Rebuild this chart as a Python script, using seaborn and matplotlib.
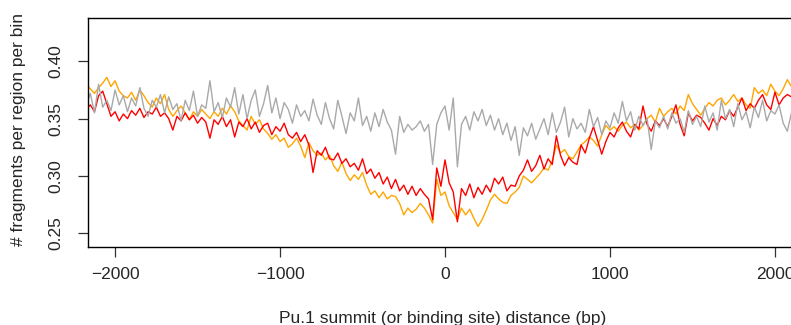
import numpy as np
import pandas as pd
import matplotlib
matplotlib.use("Agg")
import matplotlib.pyplot as plt
import seaborn as sns

# bin centres (bp), 25 bp bins
bin_start = -2175
bin_step = 25

gray_vals = [
    0.362, 0.372, 0.355, 0.380, 0.360, 0.366, 0.357, 0.375, 0.362, 0.370,
    0.356, 0.368, 0.361, 0.377, 0.359, 0.352, 0.366, 0.360, 0.371, 0.355,
    0.369, 0.358, 0.363, 0.348, 0.366, 0.357, 0.374, 0.352, 0.362, 0.359,
    0.383, 0.356, 0.364, 0.351, 0.368, 0.360, 0.377, 0.354, 0.371, 0.350,
    0.366, 0.375, 0.352, 0.363, 0.379, 0.355, 0.368, 0.350, 0.364, 0.358,
    0.346, 0.362, 0.352, 0.357, 0.348, 0.367, 0.353, 0.345, 0.364, 0.350,
    0.341, 0.366, 0.352, 0.337, 0.355, 0.348, 0.368, 0.344, 0.352, 0.339,
    0.355, 0.343, 0.358, 0.347, 0.340, 0.319, 0.352, 0.338, 0.345, 0.340,
    0.343, 0.348, 0.339, 0.345, 0.310, 0.345, 0.355, 0.361, 0.340, 0.368,
    0.308, 0.345, 0.352, 0.340, 0.356, 0.348, 0.358, 0.344, 0.353, 0.340,
    0.350, 0.336, 0.346, 0.331, 0.343, 0.318, 0.342, 0.335, 0.346, 0.332,
    0.341, 0.350, 0.336, 0.355, 0.338, 0.347, 0.360, 0.334, 0.350, 0.341,
    0.346, 0.338, 0.358, 0.343, 0.351, 0.336, 0.348, 0.342, 0.355, 0.346,
    0.365, 0.348, 0.356, 0.340, 0.352, 0.344, 0.350, 0.323, 0.348, 0.342,
    0.352, 0.341, 0.355, 0.346, 0.350, 0.338, 0.357, 0.345, 0.352, 0.343,
    0.361, 0.347, 0.355, 0.340, 0.366, 0.350, 0.358, 0.343, 0.363, 0.349,
    0.356, 0.342, 0.360, 0.351, 0.366, 0.348, 0.357, 0.354, 0.362, 0.346,
    0.339, 0.355, 0.349, 0.358, 0.352,
]

red_vals = [
    0.358, 0.362, 0.356, 0.370, 0.374, 0.363, 0.352, 0.356, 0.348, 0.354,
    0.350, 0.357, 0.353, 0.359, 0.351, 0.356, 0.354, 0.360, 0.352, 0.355,
    0.350, 0.340, 0.352, 0.348, 0.355, 0.349, 0.353, 0.346, 0.351, 0.347,
    0.333, 0.349, 0.345, 0.352, 0.343, 0.349, 0.334, 0.347, 0.343, 0.350,
    0.341, 0.347, 0.338, 0.344, 0.346, 0.336, 0.343, 0.339, 0.346, 0.336,
    0.333, 0.338, 0.330, 0.336, 0.327, 0.303, 0.322, 0.318, 0.325, 0.315,
    0.314, 0.320, 0.311, 0.315, 0.308, 0.311, 0.305, 0.315, 0.302, 0.306,
    0.298, 0.303, 0.293, 0.299, 0.289, 0.297, 0.287, 0.292, 0.284, 0.291,
    0.283, 0.289, 0.284, 0.280, 0.262, 0.307, 0.291, 0.314, 0.294, 0.286,
    0.260, 0.289, 0.283, 0.293, 0.281, 0.290, 0.284, 0.292, 0.286, 0.298,
    0.293, 0.299, 0.287, 0.292, 0.291, 0.300, 0.305, 0.314, 0.304, 0.309,
    0.318, 0.306, 0.315, 0.310, 0.335, 0.318, 0.309, 0.316, 0.312, 0.310,
    0.327, 0.320, 0.333, 0.343, 0.331, 0.319, 0.330, 0.338, 0.334, 0.342,
    0.347, 0.339, 0.334, 0.345, 0.341, 0.361, 0.345, 0.339, 0.348, 0.344,
    0.350, 0.343, 0.352, 0.362, 0.345, 0.335, 0.355, 0.348, 0.353, 0.351,
    0.346, 0.340, 0.350, 0.344, 0.352, 0.349, 0.357, 0.352, 0.360, 0.368,
    0.357, 0.363, 0.359, 0.366, 0.371, 0.362, 0.358, 0.373, 0.362, 0.368,
    0.371, 0.369, 0.372, 0.367, 0.370,
]

orange_vals = [
    0.380, 0.376, 0.372, 0.377, 0.381, 0.386, 0.378, 0.383, 0.374, 0.370,
    0.368, 0.373, 0.366, 0.375, 0.370, 0.364, 0.360, 0.368, 0.363, 0.371,
    0.358, 0.352, 0.357, 0.361, 0.355, 0.349, 0.356, 0.352, 0.358, 0.354,
    0.350, 0.356, 0.352, 0.359, 0.354, 0.361, 0.356, 0.348, 0.344, 0.340,
    0.352, 0.345, 0.349, 0.341, 0.337, 0.332, 0.336, 0.330, 0.333, 0.325,
    0.328, 0.333, 0.326, 0.316, 0.329, 0.322, 0.318, 0.320, 0.314, 0.318,
    0.309, 0.304, 0.312, 0.302, 0.296, 0.301, 0.297, 0.303, 0.292, 0.284,
    0.287, 0.281, 0.286, 0.280, 0.283, 0.282, 0.276, 0.266, 0.272, 0.268,
    0.271, 0.276, 0.272, 0.266, 0.259, 0.297, 0.283, 0.286, 0.274, 0.268,
    0.262, 0.272, 0.266, 0.271, 0.263, 0.256, 0.262, 0.270, 0.279, 0.284,
    0.280, 0.277, 0.276, 0.283, 0.286, 0.290, 0.300, 0.297, 0.294, 0.298,
    0.302, 0.307, 0.305, 0.313, 0.327, 0.320, 0.323, 0.317, 0.315, 0.321,
    0.327, 0.330, 0.334, 0.331, 0.326, 0.336, 0.344, 0.340, 0.343, 0.339,
    0.344, 0.347, 0.342, 0.345, 0.340, 0.344, 0.350, 0.353, 0.347, 0.359,
    0.352, 0.356, 0.359, 0.354, 0.361, 0.357, 0.371, 0.363, 0.358, 0.353,
    0.359, 0.364, 0.361, 0.366, 0.368, 0.362, 0.366, 0.371, 0.365, 0.368,
    0.362, 0.359, 0.377, 0.372, 0.375, 0.370, 0.380, 0.374, 0.370, 0.376,
    0.384, 0.378, 0.381, 0.377, 0.380,
]

x_ticks = [-2000, -1000, 0, 1000, 2000]
y_ticks = [0.25, 0.30, 0.35, 0.40]
x_label = "Pu.1 summit (or binding site) distance (bp)"
y_label = "# fragments per region per bin"

series_names = ["orange", "red", "gray"]
series_colors = {"orange": "#FFA500", "red": "#FF0000", "gray": "#A9A9A9"}

n = len(gray_vals)
positions = bin_start + bin_step * np.arange(n)

frames = []
for name, vals in [("orange", orange_vals), ("red", red_vals), ("gray", gray_vals)]:
    frames.append(pd.DataFrame({"distance": positions, "value": vals, "series": name}))
df = pd.concat(frames, ignore_index=True)

sns.set_theme(style="ticks")
plt.rcParams["font.family"] = ["Liberation Sans", "DejaVu Sans"]
plt.rcParams["font.size"] = 12

W, H = 791, 325
fig = plt.figure(figsize=(W / 100, H / 100), dpi=100)
ax_left = 87.7 / W
ax_bottom = (H - 246.7) / H
ax_width = (802.0 - 87.7) / W
ax_height = (246.7 - 18.3) / H
ax = fig.add_axes([ax_left, ax_bottom, ax_width, ax_height])

sns.lineplot(data=df, x="distance", y="value", hue="series", hue_order=series_names,
             palette=series_colors, estimator=None, sort=False, linewidth=1.0,
             legend=False, ax=ax)

ax.set_xlim(-2166, 2164)
ax.set_ylim(0.2383, 0.4375)
ax.set_xticks(x_ticks)
ax.set_xticklabels(["\u22122000", "\u22121000", "0", "1000", "2000"], fontsize=12.5)
ax.set_yticks(y_ticks)
ax.set_yticklabels(["0.25", "0.30", "0.35", "0.40"], fontsize=12.5, rotation=90, va="center")
ax.tick_params(axis="x", length=7.5, width=0.9, color="#333333", pad=7)
ax.tick_params(axis="y", length=7.5, width=0.9, color="#333333", pad=10)
for s in ax.spines.values():
    s.set_color("black")
    s.set_linewidth(1.0)

ax.set_xlabel("")
ax.set_ylabel("")
fig.text(443 / W, 1 - 318 / H, x_label, ha="center", va="center", fontsize=12.5)
fig.text(19 / W, 1 - 130 / H, y_label, ha="center", va="center", fontsize=12.5, rotation=90)

fig.savefig("out.png", dpi=100)
